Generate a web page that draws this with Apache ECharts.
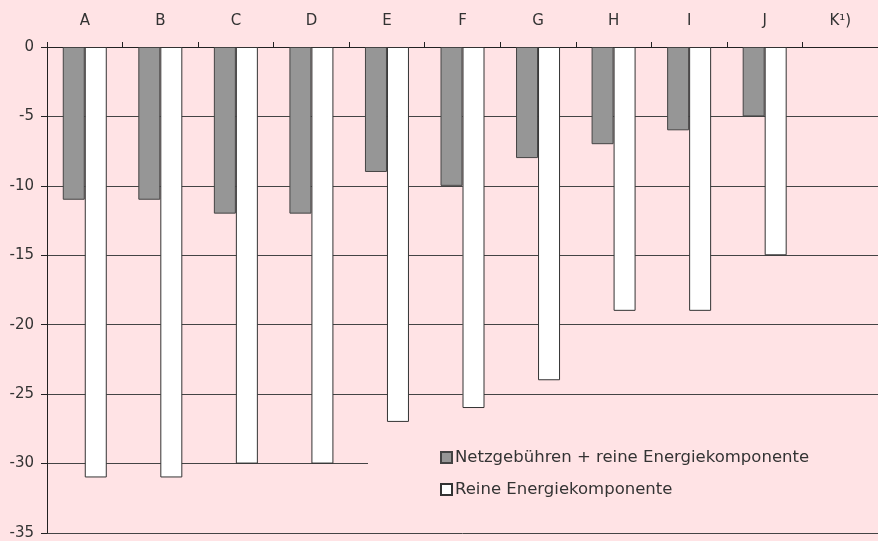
<!DOCTYPE html>
<html lang="de">
<head>
    <meta charset="UTF-8">
    <title>Netzgebühren</title>
    <script src="https://cdn.jsdelivr.net/npm/echarts@6.0.0/dist/echarts.min.js"></script>
</head>
<body style="margin:0;background:#ffe3e5;">
    <div id="main" style="width:878px;height:541px;"></div>
    <script type="text/javascript">
        // data
        const categories = ['A', 'B', 'C', 'D', 'E', 'F', 'G', 'H', 'I', 'J', 'K¹)'];
        const netzUndEnergie = [-11, -11, -12, -12, -9, -10, -8, -7, -6, -5, null];
        const reineEnergie = [-31, -31, -30, -30, -27, -26, -24, -19, -19, -15, null];
        const seriesNames = ['Netzgebühren + reine Energiekomponente', 'Reine Energiekomponente'];

        const font = '"DejaVu Sans", sans-serif';
        let myChart = echarts.init(document.getElementById('main'));

        let options = {
            backgroundColor: '#ffe3e5',
            animation: false,
            grid: { left: 47, top: 47, bottom: 8, width: 839 },
            legend: {
                orient: 'vertical',
                left: 368,
                top: 437,
                padding: [12, 120, 30, 72],
                backgroundColor: '#ffe3e5',
                itemWidth: 11,
                itemHeight: 11,
                itemGap: 15,
                icon: 'rect',
                textStyle: { fontFamily: font, fontSize: 16.5, color: '#333', padding: [0, 0, 0, -2] },
                data: seriesNames
            },
            xAxis: {
                type: 'category',
                position: 'top',
                data: categories,
                axisLine: { lineStyle: { color: '#222', width: 1 } },
                axisTick: { show: true, length: 5, lineStyle: { color: '#222' } },
                axisLabel: { fontFamily: font, fontSize: 15, color: '#333', margin: 18 }
            },
            yAxis: {
                type: 'value',
                min: -35,
                max: 0,
                interval: 5,
                axisLine: { show: true, lineStyle: { color: '#222' } },
                axisTick: { show: true, length: 6, lineStyle: { color: '#222' } },
                axisLabel: { fontFamily: font, fontSize: 15, color: '#333', margin: 13 },
                splitLine: { lineStyle: { color: '#444', width: 1 } }
            },
            series: [
                {
                    name: seriesNames[0],
                    type: 'bar',
                    data: netzUndEnergie,
                    barWidth: 22,
                    barGap: '0%',
                    itemStyle: { color: '#969696', borderColor: '#444', borderWidth: 1 }
                },
                {
                    name: seriesNames[1],
                    type: 'bar',
                    data: reineEnergie,
                    barWidth: 22,
                    barGap: '0%',
                    itemStyle: { color: '#ffffff', borderColor: '#333', borderWidth: 1 }
                }
            ]
        };

        myChart.setOption(options);
    </script>
</body>
</html>
